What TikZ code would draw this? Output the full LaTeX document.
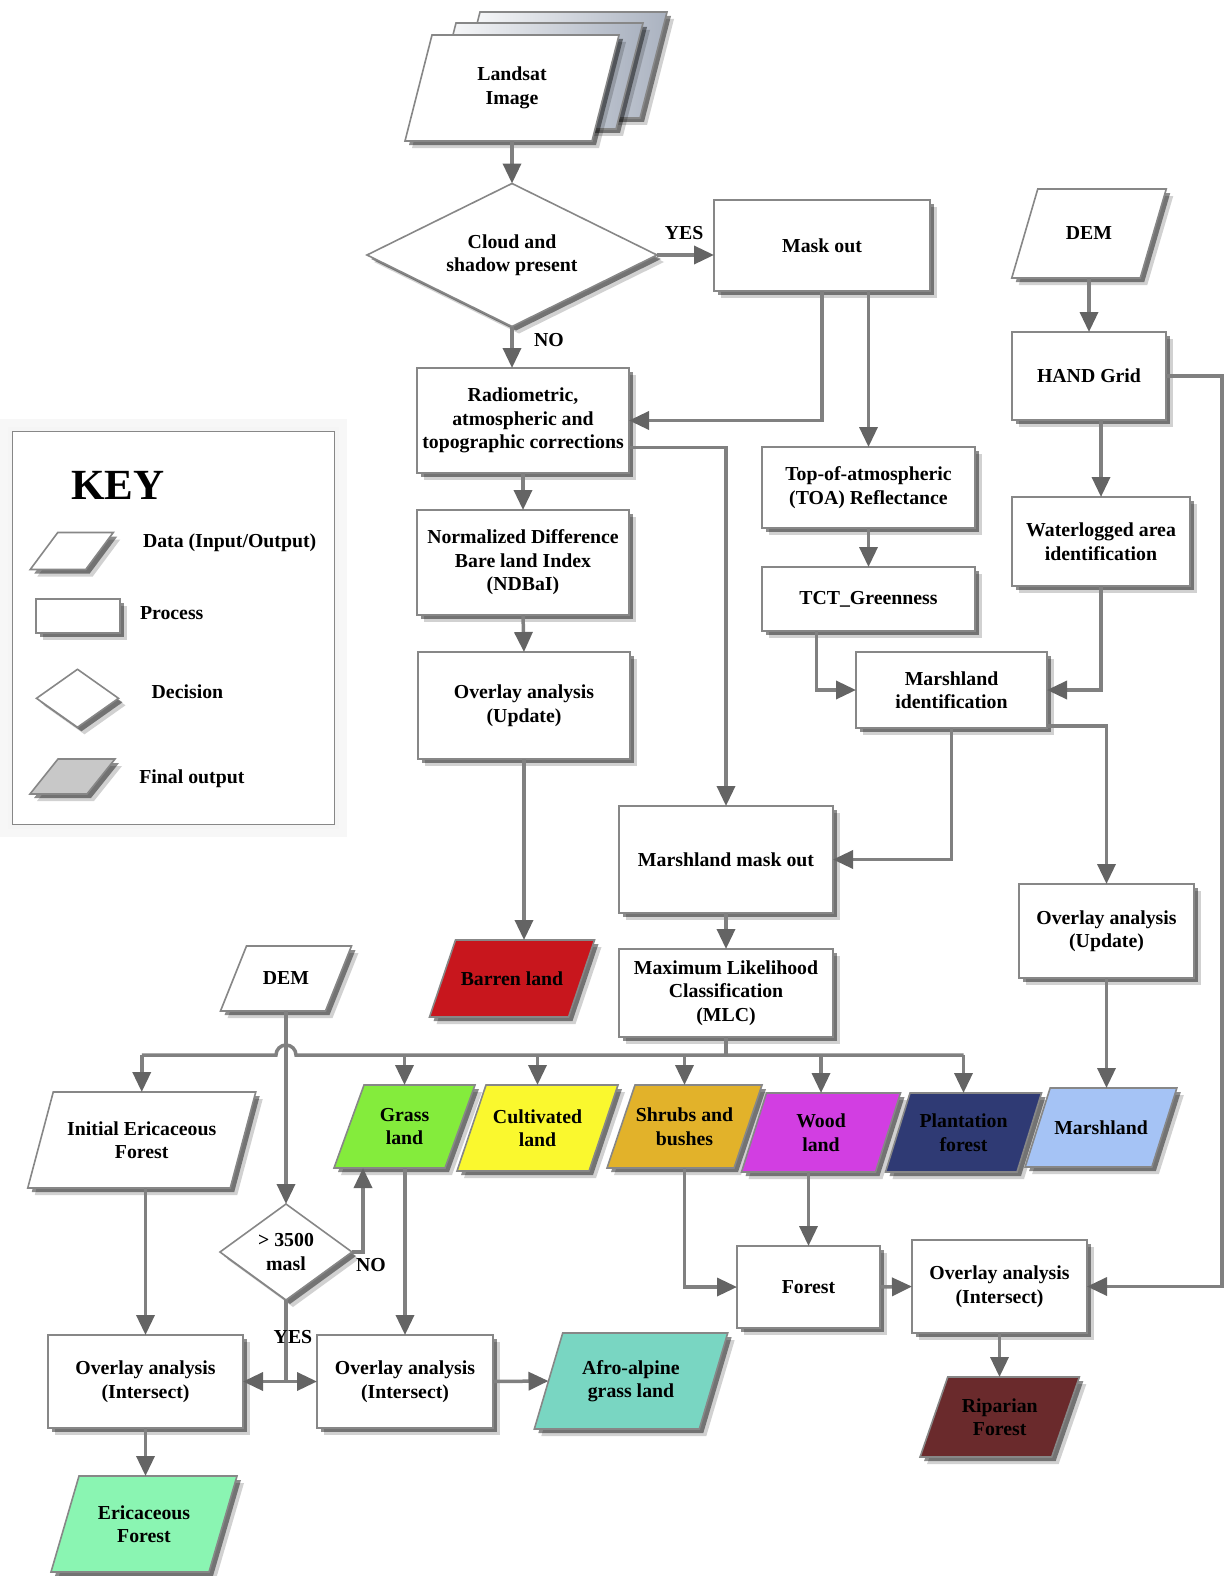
\documentclass[tikz,border=0pt]{standalone}
\usepackage{fontspec}
\setmainfont{Liberation Serif}
\usetikzlibrary{shapes.geometric,arrows.meta,shadows,backgrounds,calc}
\definecolor{lng}{RGB}{128,128,128}
\definecolor{tipg}{RGB}{100,100,100}
\definecolor{bdr}{RGB}{135,135,135}
\definecolor{sheetg}{RGB}{170,178,192}
\definecolor{barrenc}{RGB}{200,22,29}
\definecolor{grassc}{RGB}{132,236,60}
\definecolor{cultc}{RGB}{250,248,46}
\definecolor{shrubc}{RGB}{226,178,42}
\definecolor{woodc}{RGB}{210,62,226}
\definecolor{plantc}{RGB}{47,58,116}
\definecolor{marshc}{RGB}{165,195,245}
\definecolor{afroc}{RGB}{121,214,194}
\definecolor{ripac}{RGB}{106,42,44}
\definecolor{ericc}{RGB}{138,245,178}
\definecolor{finc}{RGB}{200,200,200}
\newcommand{\pgpath}[6]{%
  \draw[pg,#1] ({#2-(#4)/2+(#6)/2},{#3-(#5)/2}) -- ({#2+(#4)/2+(#6)/2},{#3-(#5)/2})
    -- ({#2+(#4)/2-(#6)/2},{#3+(#5)/2}) -- ({#2-(#4)/2-(#6)/2},{#3+(#5)/2}) -- cycle;}
\newcommand{\pgm}[8]{%
  \pgpath{fill=#7}{#2}{#3}{#4}{#5}{#6}%
  \node[minimum width=#4pt, minimum height=#5pt] (#1) at (#2,#3) {#8};}
\begin{document}
\begin{tikzpicture}[x=1pt,y=-1pt,
  every node/.style={font=\fontsize{19.8}{23.5}\selectfont\bfseries, outer sep=0pt, inner sep=0pt, align=center},
  shad/.style={drop shadow={shadow xshift=7pt,shadow yshift=-7pt,opacity=.18,fill=black},
               drop shadow={shadow xshift=4pt,shadow yshift=-4pt,opacity=.45,fill=black}},
  proc/.style={rectangle, draw=bdr, line width=1.6pt, fill=white, shad},
  dec/.style={diamond, draw=bdr, line width=1.6pt, fill=white, shad},
  pg/.style={draw=bdr, line width=1.6pt, shad},
  ln/.style={draw=lng, line width=3.5pt},
  arr/.style={ln, -{Triangle[length=20pt,width=18pt,color=tipg]}}]
\useasboundingbox (0,0) rectangle (1225,1576);

% ---------- KEY ----------
\node[draw=bdr, line width=1.2pt, fill=white, minimum width=321.6pt, minimum height=392.6pt] (key) at (173.5,628) {};
\begin{scope}[on background layer]
  \draw[line width=26pt, black!3] (key.north west) rectangle (key.south east);
  \draw[line width=18pt, black!3] (key.north west) rectangle (key.south east);
  \draw[line width=10pt, black!4] (key.north west) rectangle (key.south east);
\end{scope}
\node (keyt) at (118,485) {\fontsize{43}{50}\selectfont KEY};
\pgm{kdata}{71.75}{551}{55.5}{37}{27.5}{white}{}
\node[anchor=west] (kdatat) at (143,542.7) {Data (Input/Output)};
\node[proc, minimum width=84pt, minimum height=34pt] (kproc) at (78,616) {};
\node[anchor=west] (kproct) at (140,612.7) {Process};
\node[dec, minimum width=82pt, minimum height=58pt] (kdec) at (77.5,698.3) {};
\node[anchor=west] (kdect) at (151.7,691.7) {Decision};
\pgm{kfin}{72.5}{776.5}{57}{35}{28}{finc}{}
\node[anchor=west] (kfint) at (139.3,778.3) {Final output};

% ---------- top ----------
\pgpath{left color=white,right color=sheetg}{560}{65}{187}{106}{27}
\pgpath{left color=white,right color=sheetg}{536}{76}{187}{106}{27}
\pgm{landsat}{512}{88}{187}{106}{27}{white}{Landsat\\Image}
\node[dec, minimum width=290pt, minimum height=143pt, shape aspect=2] (dia) at (512,255) {Cloud and\\shadow present};
\node[proc, minimum width=216pt, minimum height=91pt] (mask) at (822,245.5) {Mask out};
\pgm{dem1}{1089}{233.5}{128.5}{89}{26}{white}{DEM}
\node[proc, minimum width=154pt, minimum height=88pt] (hand) at (1089,376) {HAND Grid};
\node[proc, minimum width=212pt, minimum height=105pt] (rad) at (523,420.5) {Radiometric,\\atmospheric and\\topographic corrections};
\node[proc, minimum width=213pt, minimum height=81pt] (toa) at (868.5,487.5) {Top-of-atmospheric\\(TOA) Reflectance};
\node[proc, minimum width=178pt, minimum height=89pt] (water) at (1101,541.5) {Waterlogged area\\identification};
\node[proc, minimum width=212pt, minimum height=105pt] (ndbai) at (523,562.5) {Normalized Difference\\Bare land Index\\(NDBaI)};
\node[proc, minimum width=213pt, minimum height=64pt] (tct) at (868.5,599) {TCT\_Greenness};
\node[proc, minimum width=191pt, minimum height=76pt] (mid) at (951.5,690) {Marshland\\identification};
\node[proc, minimum width=212pt, minimum height=107pt] (ovlU) at (524,705.5) {Overlay analysis\\(Update)};
\node[proc, minimum width=214pt, minimum height=107pt] (mmask) at (726,859.5) {Marshland mask out};
\node[proc, minimum width=175pt, minimum height=94pt] (ovlR) at (1106.5,931) {Overlay analysis\\(Update)};
\node[proc, minimum width=214pt, minimum height=88pt] (mlc) at (726,993) {Maximum Likelihood\\Classification\\(MLC)};
\pgm{barren}{512}{978.5}{139}{77}{26}{barrenc}{Barren land}
\pgm{dem2}{286}{978.5}{105}{65}{26}{white}{DEM}

% ---------- classes ----------
\pgm{iniE}{141.75}{1140}{202.5}{96}{25.5}{white}{Initial Ericaceous\\Forest}
\pgm{grass}{404.5}{1126.5}{111}{83}{30}{grassc}{Grass\\land}
\pgm{cult}{537.5}{1128}{132}{86}{29}{cultc}{Cultivated\\land}
\pgm{shrub}{684.5}{1126.5}{127}{83}{28}{shrubc}{Shrubs and\\bushes}
\pgm{wood}{821}{1132.5}{134}{79}{25}{woodc}{Wood\\land}
\pgm{plant}{963.5}{1132.5}{131.5}{79}{24.5}{plantc}{Plantation\\forest}
\pgm{marsh}{1101}{1127.5}{126.7}{79}{25}{marshc}{Marshland}

% ---------- bottom ----------
\node[dec, minimum width=132pt, minimum height=96pt, shape aspect=1.4] (dia2) at (286,1252) {> 3500\\masl};
\node[proc, minimum width=143pt, minimum height=82pt] (forest) at (808.5,1287) {Forest};
\node[proc, minimum width=175pt, minimum height=93pt] (ovlI) at (999.5,1286.5) {Overlay analysis\\(Intersect)};
\node[proc, minimum width=195pt, minimum height=93pt] (ovlL) at (145.5,1381.5) {Overlay analysis\\(Intersect)};
\node[proc, minimum width=176pt, minimum height=93pt] (ovlM) at (405,1381.5) {Overlay analysis\\(Intersect)};
\pgm{afro}{631}{1381}{165}{96}{28.4}{afroc}{Afro-alpine\\grass land}
\pgm{ripa}{999.7}{1417}{131.6}{80}{27.7}{ripac}{Riparian\\Forest}
\pgm{eric}{144}{1524}{158}{96}{28}{ericc}{Ericaceous\\Forest}

% ---------- connectors ----------
\draw[arr] (landsat.south) -- (dia.north);
\draw[arr] (dia.east) -- (dia.east -| mask.west);
\node (yes1) at (684,233) {YES};
\draw[arr] (dia.south) -- (dia.south |- rad.north);
\node (no1) at (549,340) {NO};
\draw[arr] (mask.south) |- (rad.east);
\draw[arr] (mask.south -| toa.north) -- (toa.north);
\draw[arr] (dem1.south) -- (hand.north);
\draw[arr] (hand.south -| water.north) -- (water.north);
\coordinate (rt) at (1222,0);
\draw[arr] (hand.east) -- (hand.east -| rt) |- (ovlI.east);
\draw[arr] ([yshift=-27pt]rad.east) -| (mmask.north);
\draw[arr] (rad.south) -- (ndbai.north);
\draw[arr] (ndbai.south) -- (ovlU.north);
\draw[arr] (ovlU.south) -- (ovlU.south |- barren.north);
\draw[arr] (toa.south) -- (tct.north);
\draw[arr] ([xshift=-52pt]tct.south) |- (mid.west);
\draw[arr] (water.south) |- (mid.east);
\draw[arr] (mid.south) |- (mmask.east);
\draw[arr] ([yshift=-36pt]mid.east) -| (ovlR.north);
\draw[arr] (mmask.south) -- (mlc.north);
\draw[arr] (ovlR.south) -- (ovlR.south |- marsh.north);

\coordinate (bus) at (0,1055);
\coordinate (hop) at (dem2.south |- bus);
\draw[ln] (mlc.south) -- (mlc.south |- bus);
\draw[ln] (iniE.north |- bus) -- ([xshift=-10pt]hop) arc[start angle=180,end angle=0,radius=10pt] -- (plant.north |- bus);
\draw[arr] (iniE.north |- bus) -- (iniE.north);
\draw[arr] (grass.north |- bus) -- (grass.north);
\draw[arr] (cult.north |- bus) -- (cult.north);
\draw[arr] (shrub.north |- bus) -- (shrub.north);
\draw[arr] (wood.north |- bus) -- (wood.north);
\draw[arr] (plant.north |- bus) -- (plant.north);

\draw[arr] (dem2.south) -- (dia2.north);
\draw[arr] (dia2.east) -| ([xshift=14pt]grass.south west);
\node (no2) at (371,1265) {NO};
\draw[ln] (dia2.south) -- (dia2.south |- ovlL.east);
\draw[arr] (dia2.south |- ovlL.east) -- (ovlL.east);
\draw[arr] (dia2.south |- ovlM.west) -- (ovlM.west);
\node (yes2) at (293,1337) {YES};
\draw[arr] (ovlM.north |- grass.south) -- (ovlM.north);
\draw[arr] (ovlL.north |- iniE.south) -- (ovlL.north);
\draw[arr] (ovlL.south) -- (ovlL.south |- eric.north);
\draw[arr] (ovlM.east) -- (afro.west);
\draw[arr] (shrub.south) |- (forest.west);
\draw[arr] (forest.north |- wood.south) -- (forest.north);
\draw[arr] (forest.east) -- (ovlI.west);
\draw[arr] (ovlI.south) -- (ovlI.south |- ripa.north);
\end{tikzpicture}
\end{document}
